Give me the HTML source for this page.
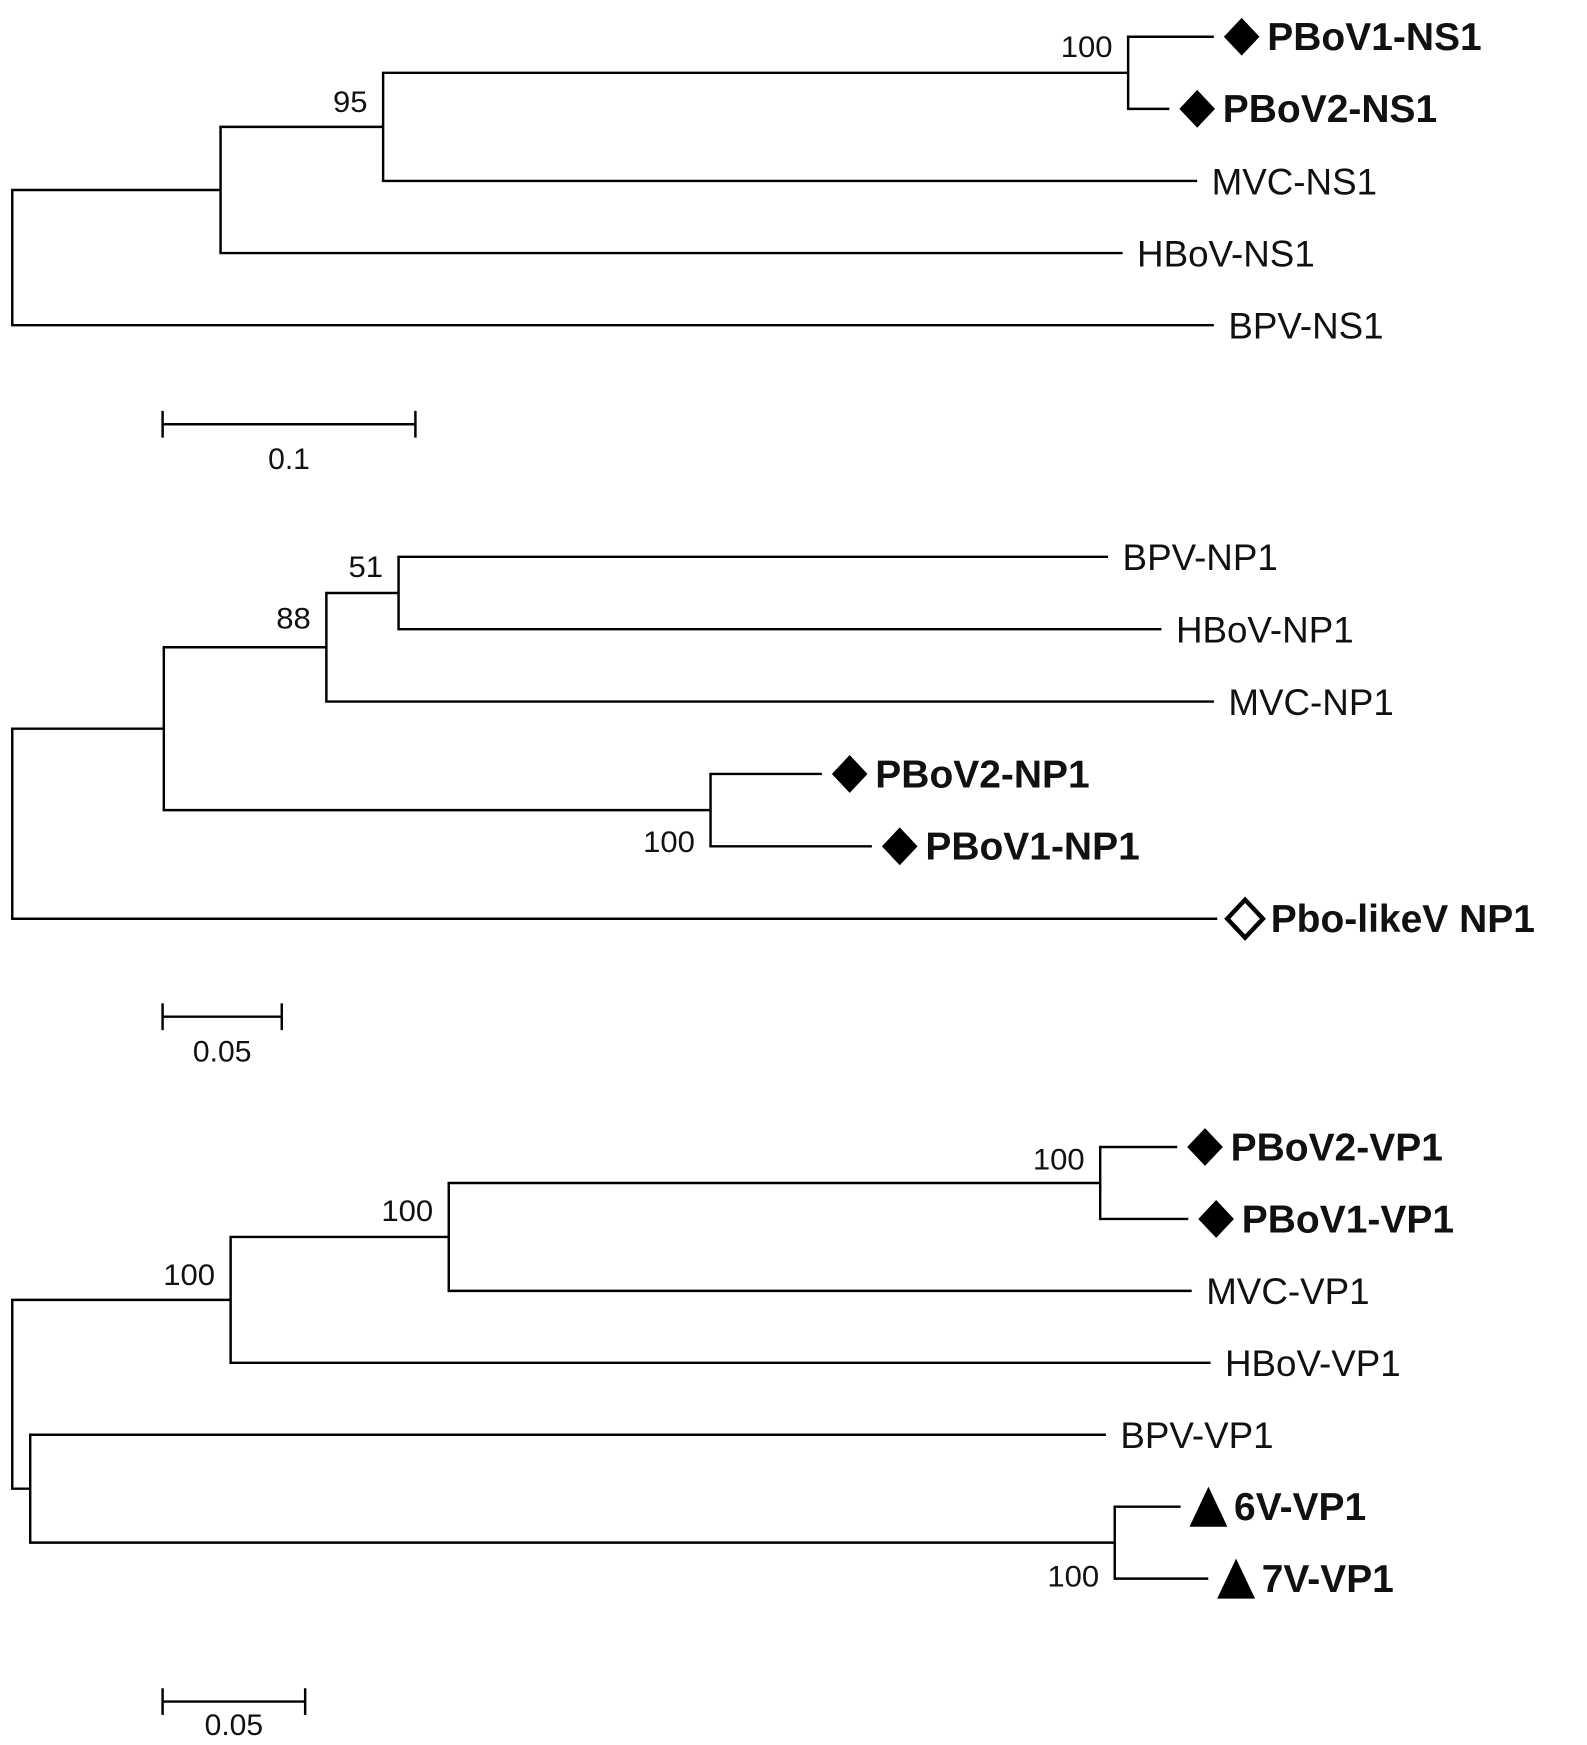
<!DOCTYPE html>
<html><head><meta charset="utf-8"><style>
html,body{margin:0;padding:0;background:#fff;}
svg{display:block;}
text{font-family:"Liberation Sans",Arial,sans-serif;fill:#111;}
</style></head><body>
<svg id="chart" width="1587" height="1745" viewBox="0 0 1425 1567" preserveAspectRatio="none" xmlns="http://www.w3.org/2000/svg"></svg>
<script>
// ---- Panel 1 (NS1) ----
const p1LeafNames = ["PBoV1-NS1","PBoV2-NS1","MVC-NS1","HBoV-NS1","BPV-NS1"];
const p1LeafDepths = [0.4753,0.4577,0.4687,0.4392,0.4753];
const p1LeafMarkers = ["diamond","diamond","none","none","none"];
const p1NodeDepths = [0,0.0824,0.1467,0.4414]; // root, A, B, C
const p1NodeChildren = [["n1","l4"],["n2","l3"],["n3","l2"],["l0","l1"]];
const p1Support = ["","","95","100"];
const p1SupportDy = [0,0,25,8];
// ---- Panel 2 (NP1) ----
const p2LeafNames = ["BPV-NP1","HBoV-NP1","MVC-NP1","PBoV2-NP1","PBoV1-NP1","Pbo-likeV NP1"];
const p2LeafDepths = [0.4598,0.4822,0.5042,0.3397,0.3607,0.5056];
const p2LeafMarkers = ["none","none","none","diamond","diamond","hollow"];
const p2NodeDepths = [0,0.0636,0.1318,0.1621,0.2930]; // root,A,B,C,D
const p2NodeChildren = [["n1","l5"],["n2","n4"],["n3","l2"],["l0","l1"],["l3","l4"]];
const p2Support = ["","","88","51","100"];
const p2SupportDy = [0,0,22,8,-5];
// ---- Panel 3 (VP1) ----
const p3LeafNames = ["PBoV2-VP1","PBoV1-VP1","MVC-VP1","HBoV-VP1","BPV-VP1","6V-VP1","7V-VP1"];
const p3LeafDepths = [0.4086,0.4125,0.4137,0.4203,0.3836,0.4098,0.4195];
const p3LeafMarkers = ["diamond","diamond","none","none","none","triangle","triangle"];
const p3NodeDepths = [0,0.0766,0.1531,0.3816,0.0063,0.3867]; // root,A,B,C,E,F
const p3NodeChildren = [["n1","n4"],["n2","l3"],["n3","l2"],["l0","l1"],["l4","n5"],["l5","l6"]];
const p3Support = ["","100","100","100","","100"];
const p3SupportDy = [0,33,24,10,0,-3];
const p3SupportFix = ["none","top","top","top","none","bottom"];
// scale bars
const scaleValues = [0.1,0.05,0.05];
const scaleLabels = ["0.1","0.05","0.05"];

const NS="http://www.w3.org/2000/svg";
const svg=document.getElementById('chart');
function mk(tag,attrs,parent){const e=document.createElementNS(NS,tag);for(const k in attrs)e.setAttribute(k,attrs[k]);(parent||svg).appendChild(e);return e;}

const panels=[
 {names:p1LeafNames,depths:p1LeafDepths,markers:p1LeafMarkers,nd:p1NodeDepths,nc:p1NodeChildren,sup:p1Support,sdy:p1SupportDy,pos:["none","none","top","top"],x0:11,ppu:2270,y0:33,rowH:64.75,scaleY:381,scaleX:146,labDy:40,tag:"ns1"},
 {names:p2LeafNames,depths:p2LeafDepths,markers:p2LeafMarkers,nd:p2NodeDepths,nc:p2NodeChildren,sup:p2Support,sdy:p2SupportDy,pos:["none","none","top","top","bottom"],x0:11,ppu:2140,y0:500,rowH:65,scaleY:913,scaleX:146,labDy:40,tag:"np1"},
 {names:p3LeafNames,depths:p3LeafDepths,markers:p3LeafMarkers,nd:p3NodeDepths,nc:p3NodeChildren,sup:p3Support,sdy:p3SupportDy,pos:p3SupportFix,x0:11,ppu:2560,y0:1030,rowH:64.6,scaleY:1528,scaleX:146,labDy:30,tag:"vp1"}
];

panels.forEach((P,pi)=>{
  const g=mk('g',{});
  
  
  const xs=d=>P.x0+d*P.ppu;
  const ys=r=>P.y0+r*P.rowH;
  const yOf={};
  P.names.forEach((n,i)=>{yOf['l'+i]=ys(i);});
  function nodeY(i){const id='n'+i;if(yOf[id]!==undefined)return yOf[id];
    const c=P.nc[i].map(k=>k[0]==='n'?nodeY(+k.slice(1)):yOf[k]);
    yOf[id]=(Math.min(...c)+Math.max(...c))/2;return yOf[id];}
  P.nd.forEach((_,i)=>nodeY(i));
  const depthOf=k=>k[0]==='n'?P.nd[+k.slice(1)]:P.depths[+k.slice(1)];
  P.nd.forEach((d,i)=>{
    const x=xs(d);const cy=P.nc[i].map(k=>yOf[k]);
    const v=mk('line',{x1:x,x2:x,y1:Math.min(...cy),y2:Math.max(...cy),stroke:'#000','stroke-width':2.2},g);
    
    
    P.nc[i].forEach(k=>{
      const h=mk('line',{x1:x-1.1,x2:xs(depthOf(k)),y1:yOf[k],y2:yOf[k],stroke:'#000','stroke-width':2.2},g);
      
      
    });
    if(P.sup[i]){
      const ty=P.pos[i]==='bottom'?Math.max(...cy)+P.sdy[i]:Math.min(...cy)+P.sdy[i];
      const t=mk('text',{x:x-14,y:ty+10,'text-anchor':'end','font-size':27,textLength:P.sup[i].length*15.5,lengthAdjust:'spacingAndGlyphs'},g);
      t.textContent=P.sup[i];
      
      
    }
  });
  P.names.forEach((n,i)=>{
    const x=xs(P.depths[i]),y=ys(i),m=P.markers[i];
    let lx=x+13;
    if(m!=='none'){
      const cx=x+25;let s;
      if(m==='triangle') s=mk('polygon',{points:`${cx-17},${y+18} ${cx+17},${y+18} ${cx},${y-18}`,fill:'#000'},g);
      else s=mk('polygon',{points:`${cx},${y-17} ${cx+16},${y} ${cx},${y+17} ${cx-16},${y}`,fill:m==='hollow'?'#fff':'#000',stroke:'#000','stroke-width':m==='hollow'?4:0},g);
      
      
      lx=cx+23;
    }
    const bold=m!=='none';
    const t=mk('text',{x:lx,y:y+12,'font-size':bold?35:33,'font-weight':bold?'bold':'normal'},g);
    t.textContent=n;
    
    
  });
  const sx=P.scaleX,sw=scaleValues[pi]*P.ppu,sy=P.scaleY;
  const sb=mk('path',{d:`M${sx},${sy-12}V${sy+12}M${sx},${sy}H${sx+sw}M${sx+sw},${sy-12}V${sy+12}`,stroke:'#000','stroke-width':2.2,fill:'none'},g);
  
  
  const st=mk('text',{x:sx+sw/2,y:sy+P.labDy,'text-anchor':'middle','font-size':27},g);
  st.textContent=scaleLabels[pi];
  
  
});
</script>
</body></html>
